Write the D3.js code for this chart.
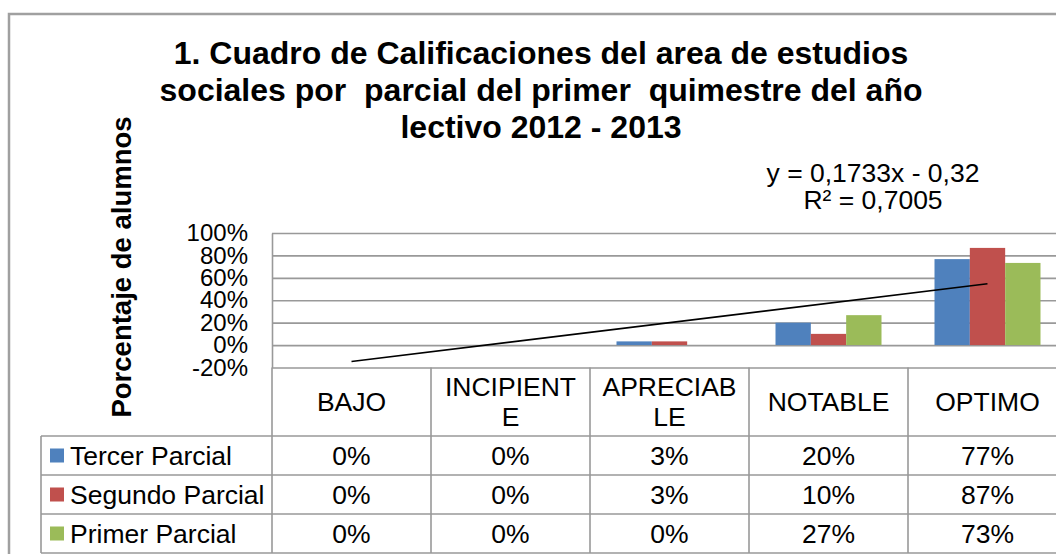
<!DOCTYPE html>
<html>
<head>
<meta charset="utf-8">
<script src="https://cdn.jsdelivr.net/npm/d3@7"></script>
<style>
  body { margin: 0; background: #fff; overflow: hidden; }
  text { font-family: "Liberation Sans", Arial, sans-serif; fill: #000; }
</style>
</head>
<body>
<div id="chart"></div>
<script>
// data
const categories = ["BAJO", "INCIPIENTE", "APRECIABLE", "NOTABLE", "OPTIMO"];
const seriesNames = ["Tercer Parcial", "Segundo Parcial", "Primer Parcial"];
const tercerParcial = [0, 0, 0.033, 0.20, 0.767];
const segundoParcial = [0, 0, 0.033, 0.10, 0.867];
const primerParcial = [0, 0, 0, 0.267, 0.733];
const yTicks = [-0.2, 0, 0.2, 0.4, 0.6, 0.8, 1];
const trendSlope = 0.1733;
const trendIntercept = -0.32;
const titleLines = ["1. Cuadro de Calificaciones del area de estudios",
                    "sociales por  parcial del primer  quimestre del año",
                    "lectivo 2012 - 2013"];
const equationLines = ["y = 0,1733x - 0,32", "R² = 0,7005"];

const color = ["#4f81bd", "#c0504d", "#9bbb59"];
const values = [tercerParcial, segundoParcial, primerParcial];
const gridColor = "#999999";
// plain hyphen for negatives, like Excel
const locale = d3.formatLocale({decimal: ",", thousands: ".", grouping: [3], currency: ["", ""], minus: "-"});
const pct = locale.format(".0%");

// layout (plot runs past the right edge, as in the picture)
var plot = {left: 272, right: 1067, top: 233, bottom: 367.5};
var rowY = [436, 475, 514, 553];
var legendLeft = 41;
const tableFont = 26.5;

var svg = d3.select("#chart")
  .append("svg")
    .attr("width", 1056)
    .attr("height", 554);

// outer chart border
svg.append("rect")
  .attr("x", 9).attr("y", 14)
  .attr("width", 1200).attr("height", 700)
  .attr("fill", "none")
  .attr("stroke", "#a0a0a0")
  .attr("stroke-width", 2.5);

// title
svg.append("text")
  .attr("text-anchor", "middle")
  .style("font-size", "32px")
  .style("font-weight", "bold")
  .selectAll("tspan")
  .data(titleLines)
  .enter()
  .append("tspan")
    .attr("x", 541)
    .attr("y", (d, i) => 64 + i * 37)
    .style("white-space", "pre")
    .text(d => d);

// scales
const xScale = d3.scaleBand()
  .domain(categories)
  .range([plot.left, plot.right]);

const xSeries = d3.scaleBand()
  .domain(seriesNames)
  .range([0, xScale.bandwidth()])
  .paddingInner(0)
  .paddingOuter(0.75);

const yScale = d3.scaleLinear()
  .domain([-0.2, 1])
  .range([plot.bottom, plot.top]);

// gridlines
svg.append("g")
  .attr("transform", "translate(" + plot.left + ",0)")
  .call(d3.axisLeft(yScale).tickValues(yTicks).tickSize(-(plot.right - plot.left)).tickFormat(""))
  .call(g => g.select(".domain").remove())
  .call(g => g.selectAll(".tick line").attr("stroke", gridColor).attr("stroke-width", 1.6));

// y axis labels + axis line
svg.append("g")
  .attr("transform", "translate(" + plot.left + ",0)")
  .call(d3.axisLeft(yScale).tickValues(yTicks).tickFormat(pct).tickSize(0).tickSizeOuter(0).tickPadding(24))
  .call(g => g.select(".domain").attr("stroke", gridColor).attr("stroke-width", 1.6))
  .call(g => g.selectAll(".tick text")
     .style("font-size", "24px")
     .style("font-family", '"Liberation Sans", Arial, sans-serif')
     .attr("fill", "#000"));

// y axis title
svg.append("text")
  .attr("transform", "translate(131,267) rotate(-90)")
  .attr("text-anchor", "middle")
  .style("font-size", "27.5px")
  .style("font-weight", "bold")
  .text("Porcentaje de alumnos");

// bars
const series = svg.selectAll(".series")
  .data(values)
  .enter()
  .append("g")
  .attr("class", "series")
  .style("fill", (d, i) => color[i]);

series.selectAll("rect")
  .data((d, i) => d.map((v, j) => ({v: v, cat: categories[j], name: seriesNames[i]})))
  .enter()
  .append("rect")
    .attr("x", d => xScale(d.cat) + xSeries(d.name))
    .attr("width", xSeries.bandwidth())
    .attr("y", d => yScale(Math.max(0, d.v)))
    .attr("height", d => Math.abs(yScale(d.v) - yScale(0)));

// linear trendline
const trendX = d3.scaleLinear()
  .domain([1, categories.length])
  .range([xScale(categories[0]) + xScale.bandwidth() / 2,
          xScale(categories[categories.length - 1]) + xScale.bandwidth() / 2]);

const trendLine = d3.line()
  .x(d => trendX(d))
  .y(d => yScale(trendSlope * d + trendIntercept));

svg.append("path")
  .datum([1, categories.length])
  .attr("d", trendLine)
  .attr("fill", "none")
  .attr("stroke", "#000")
  .attr("stroke-width", 1.6);

// trendline equation
svg.append("text")
  .attr("text-anchor", "middle")
  .style("font-size", "26.5px")
  .selectAll("tspan")
  .data(equationLines)
  .enter()
  .append("tspan")
    .attr("x", 873)
    .attr("y", (d, i) => 182 + i * 27)
    .text(d => d);

// data table grid
const grid = svg.append("g")
  .attr("stroke", gridColor)
  .attr("stroke-width", 1.6);

rowY.forEach(y => {
  grid.append("line")
    .attr("x1", legendLeft).attr("x2", plot.right)
    .attr("y1", y).attr("y2", y);
});

categories.concat(["end"]).forEach((c, i) => {
  const x = plot.left + i * xScale.bandwidth();
  grid.append("line")
    .attr("x1", x).attr("x2", x)
    .attr("y1", plot.bottom).attr("y2", rowY[rowY.length - 1]);
});

grid.append("line")
  .attr("x1", legendLeft).attr("x2", legendLeft)
  .attr("y1", rowY[0]).attr("y2", rowY[rowY.length - 1]);

// category headers, wrapped like Excel does
const headerMid = (plot.bottom + rowY[0]) / 2;

const headers = svg.selectAll(".header")
  .data(categories)
  .enter()
  .append("text")
    .attr("class", "header")
    .attr("text-anchor", "middle")
    .style("font-size", tableFont + "px");

headers.each(function(d) {
  const node = d3.select(this);
  const probe = node.append("tspan");
  const lines = [];
  let line = "";
  for (const ch of d) {
    probe.text(line + ch);
    if (probe.node().getComputedTextLength() > xScale.bandwidth() - 18 && line) {
      lines.push(line);
      line = ch;
    } else {
      line += ch;
    }
  }
  lines.push(line);
  probe.remove();
  const lh = 30;
  const cx = xScale(d) + xScale.bandwidth() / 2;
  node.selectAll("tspan")
    .data(lines)
    .enter()
    .append("tspan")
      .attr("x", cx)
      .attr("y", (l, i) => headerMid + 9.5 - (lines.length - 1) * lh / 2 + i * lh)
      .text(l => l);
});

// legend column and values
seriesNames.forEach((name, i) => {
  const mid = (rowY[i] + rowY[i + 1]) / 2;
  svg.append("rect")
    .attr("x", 50)
    .attr("y", mid - 7)
    .attr("width", 14)
    .attr("height", 14)
    .style("fill", color[i]);
  svg.append("text")
    .attr("x", 70)
    .attr("y", mid + 9.5)
    .style("font-size", tableFont + "px")
    .text(name);
  svg.selectAll(".val" + i)
    .data(values[i])
    .enter()
    .append("text")
      .attr("x", (v, j) => xScale(categories[j]) + xScale.bandwidth() / 2)
      .attr("y", mid + 9.5)
      .attr("text-anchor", "middle")
      .style("font-size", tableFont + "px")
      .text(v => pct(v));
});
</script>
</body>
</html>
